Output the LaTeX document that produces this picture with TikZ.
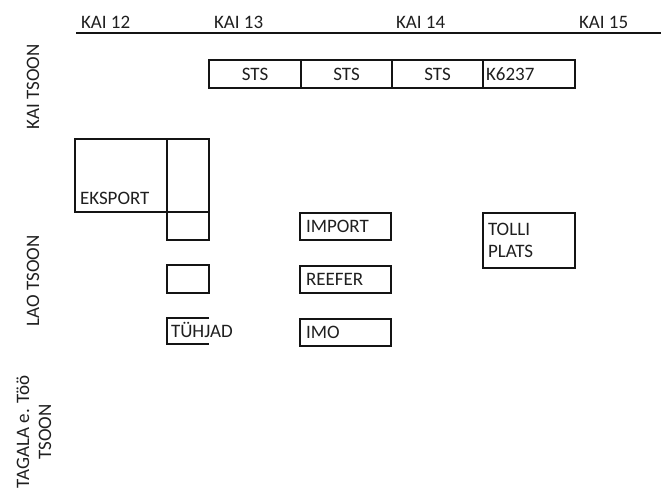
\documentclass[tikz,border=0pt]{standalone}
\usepackage{fontspec}
\setmainfont{Carlito}
\begin{document}
\begin{tikzpicture}[x=1pt,y=-1pt,
  every node/.style={inner sep=0pt,outer sep=0pt,text=black!88,font=\fontsize{19}{22}\selectfont},
  thickbox/.style={draw=black!92,line width=2.6pt},
  thinbox/.style={draw=black!92,line width=1.2pt},
  lbl/.style={anchor=base west},
  clbl/.style={anchor=base},
  side/.style={rotate=90,align=center,anchor=center}]
\useasboundingbox (0,0) rectangle (661,488);
% top axis
\coordinate (axL) at (76,33);
\coordinate (axR) at (661,33);
\draw[black!92,line width=1.8pt] (axL) -- (axR);
\node[lbl] (k12) at (81,28) {KAI 12};
\node[lbl] (k13) at (214,28) {KAI 13};
\node[lbl] (k14) at (396,28) {KAI 14};
\node[lbl] (k15) at (579,28) {KAI 15};
% side labels
\node[side] (zkai) at (33,87) {KAI TSOON};
\node[side] (zlao) at (33,281) {LAO TSOON};
\node[side] (ztag) at (34,432) {TAGALA e. Töö\\TSOON};
% STS row
\draw[thinbox] (483,60) rectangle (575,88);
\draw[thickbox] (209,60) rectangle (483,88);
\draw[thickbox] (301,60) -- (301,88);
\draw[thickbox] (392,60) -- (392,88);
\node[clbl] (sts1) at (255,80) {STS};
\node[clbl] (sts2) at (346.5,80) {STS};
\node[clbl] (sts3) at (437.5,80) {STS};
\node[lbl] (k6237) at (486,80) {K6237};
% export block
\draw[thickbox] (75,139) rectangle (209,212);
\draw[thickbox] (167,139) -- (167,240);
\draw[thickbox] (167,212) rectangle (209,240);
\node[lbl] (eks) at (80,204) {EKSPORT};
\draw[thickbox] (167,265) rectangle (209,293);
% tuhjad
\draw[thickbox] (209,318) -- (167,318) -- (167,344) -- (209,344);
\node[lbl,fill=white,inner xsep=1pt] (tuh) at (170,337) {TÜHJAD};
% import etc
\draw[thickbox] (300,213) rectangle (391,240);
\node[lbl] (imp) at (306,232) {IMPORT};
\draw[thickbox] (300,266) rectangle (391,293);
\node[lbl] (ref) at (306,285) {REEFER};
\draw[thickbox] (300,319) rectangle (391,346);
\node[lbl] (imo) at (306,338) {IMO};
% tolli
\draw[thickbox] (483,213) rectangle (575,268);
\node[lbl] (tolli) at (488,235) {TOLLI};
\node[lbl] (plats) at (488,257) {PLATS};
\end{tikzpicture}
\end{document}
